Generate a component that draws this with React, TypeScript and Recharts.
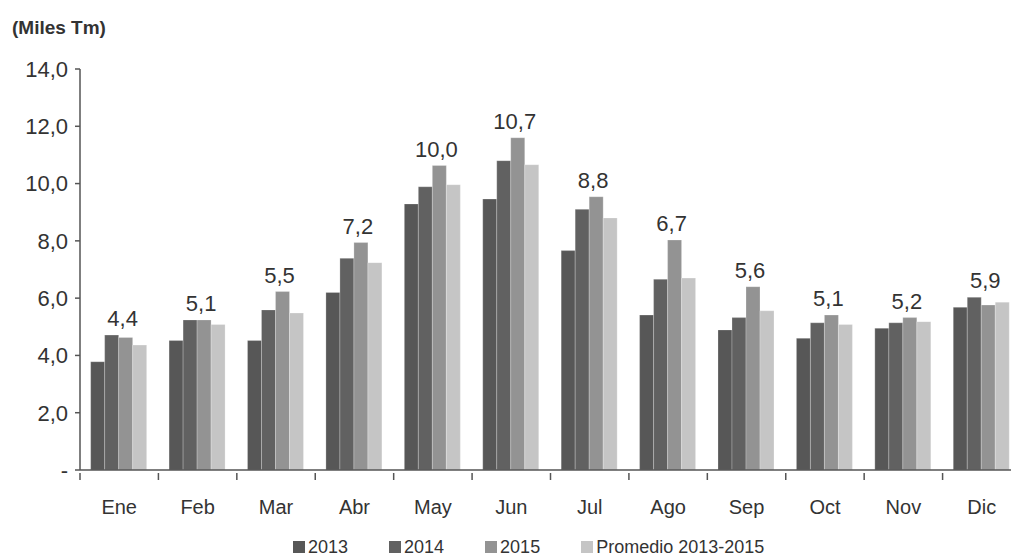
import { BarChart, Bar, XAxis, YAxis, LabelList } from 'recharts';

// Datos mensuales (miles de toneladas)
const months = ['Ene', 'Feb', 'Mar', 'Abr', 'May', 'Jun', 'Jul', 'Ago', 'Sep', 'Oct', 'Nov', 'Dic'];
const serie2013 = [3.78, 4.52, 4.52, 6.2, 9.29, 9.46, 7.66, 5.41, 4.89, 4.6, 4.95, 5.68];
const serie2014 = [4.71, 5.24, 5.59, 7.39, 9.89, 10.8, 9.1, 6.66, 5.32, 5.14, 5.14, 6.03];
const serie2015 = [4.63, 5.24, 6.23, 7.94, 10.63, 11.6, 9.54, 8.03, 6.4, 5.41, 5.32, 5.76];
const promedio = [4.36, 5.08, 5.48, 7.24, 9.96, 10.66, 8.8, 6.7, 5.56, 5.08, 5.18, 5.86];
const yTicks = [0, 2, 4, 6, 8, 10, 12, 14];

const COLORS = {
  y2013: '#575757',
  y2014: '#616161',
  y2015: '#939393',
  prom: '#c5c5c5',
};
const AXIS = '#555555';
const TEXT = '#333333';
const FONT = '"Liberation Sans", Arial, Helvetica, sans-serif';

const data = months.map((m, i) => ({
  month: m,
  y2013: serie2013[i],
  y2014: serie2014[i],
  y2015: serie2015[i],
  prom: promedio[i],
}));

const fmt = (v: number) => (v === 0 ? '-' : v.toFixed(1).replace('.', ','));

function MonthTick(props: any) {
  const { x, y, payload, width, visibleTicksCount } = props;
  const count = visibleTicksCount || months.length;
  const half = Number.isFinite(width) ? width / count / 2 : 941 / 24;
  return (
    <g>
      <line x1={x - half} x2={x - half} y1={y - 5} y2={y + 2} stroke={AXIS} strokeWidth={1.5} />
      <text x={x} y={y + 36} textAnchor="middle" fill={TEXT} fontSize={20} fontFamily={FONT}>
        {payload.value}
      </text>
    </g>
  );
}

// Etiqueta del promedio, encima de la barra más alta del mes
function PromedioLabel(props: any) {
  const vb = props.viewBox ?? props;
  const x = vb.x ?? props.x;
  const y = vb.y ?? props.y;
  const w = vb.width ?? props.width;
  const h = vb.height ?? props.height;
  const i = props.index;
  const v = serie2015[i];
  if (!v || !h) return null;
  const max = Math.max(serie2013[i], serie2014[i], serie2015[i], promedio[i]);
  const base = y + h;
  const topMax = base - (h * max) / v;
  return (
    <text x={x + w / 2 - 3} y={topMax - 9} textAnchor="middle" fill={TEXT} fontSize={22} fontFamily={FONT}>
      {fmt(promedio[i])}
    </text>
  );
}

const legendItems = [
  { label: '2013', color: COLORS.y2013 },
  { label: '2014', color: COLORS.y2014 },
  { label: '2015', color: COLORS.y2015 },
  { label: 'Promedio 2013-2015', color: COLORS.prom },
];

export default function App() {
  const barStroke = { stroke: '#ffffff', strokeOpacity: 0.3, strokeWidth: 0.8 };
  return (
    <div
      style={{
        position: 'absolute',
        left: 0,
        top: 0,
        width: 1011,
        height: 559,
        overflow: 'hidden',
        background: '#ffffff',
        fontFamily: FONT,
      }}
    >
      <div
        style={{
          position: 'absolute',
          left: 12,
          top: 17,
          fontSize: 19,
          fontWeight: 'bold',
          color: TEXT,
          whiteSpace: 'nowrap',
        }}
      >
        (Miles Tm)
      </div>

      <BarChart
        width={1030}
        height={559}
        data={data}
        margin={{ top: 69, right: 9, left: 0, bottom: 39 }}
        barCategoryGap="13.6%"
        barGap={0}
      >
        <YAxis
          width={80}
          domain={[0, 14]}
          ticks={yTicks}
          interval={0}
          tickFormatter={fmt}
          axisLine={{ stroke: AXIS, strokeWidth: 1.5 }}
          tickLine={{ stroke: AXIS, strokeWidth: 1.5 }}
          tickSize={5}
          tickMargin={7}
          tick={{ fill: TEXT, fontSize: 22, fontFamily: FONT }}
        />
        <XAxis
          dataKey="month"
          height={50}
          interval={0}
          axisLine={{ stroke: AXIS, strokeWidth: 1.5 }}
          tickLine={false}
          tick={<MonthTick />}
        />
        <Bar dataKey="y2013" name="2013" fill={COLORS.y2013} {...barStroke} isAnimationActive={false} />
        <Bar dataKey="y2014" name="2014" fill={COLORS.y2014} {...barStroke} isAnimationActive={false} />
        <Bar dataKey="y2015" name="2015" fill={COLORS.y2015} {...barStroke} isAnimationActive={false}>
          <LabelList dataKey="y2015" content={<PromedioLabel />} />
        </Bar>
        <Bar dataKey="prom" name="Promedio 2013-2015" fill={COLORS.prom} {...barStroke} isAnimationActive={false} />
      </BarChart>

      {/* Leyenda */}
      <div
        style={{
          position: 'absolute',
          left: 293,
          top: 537,
          display: 'flex',
          alignItems: 'center',
          gap: 41,
          fontSize: 18,
          lineHeight: '20px',
          height: 20,
          color: TEXT,
          whiteSpace: 'nowrap',
        }}
      >
        {legendItems.map((it) => (
          <div key={it.label} style={{ display: 'flex', alignItems: 'center', gap: 3 }}>
            <span style={{ display: 'inline-block', width: 12, height: 12, background: it.color }} />
            <span>{it.label}</span>
          </div>
        ))}
      </div>
    </div>
  );
}
